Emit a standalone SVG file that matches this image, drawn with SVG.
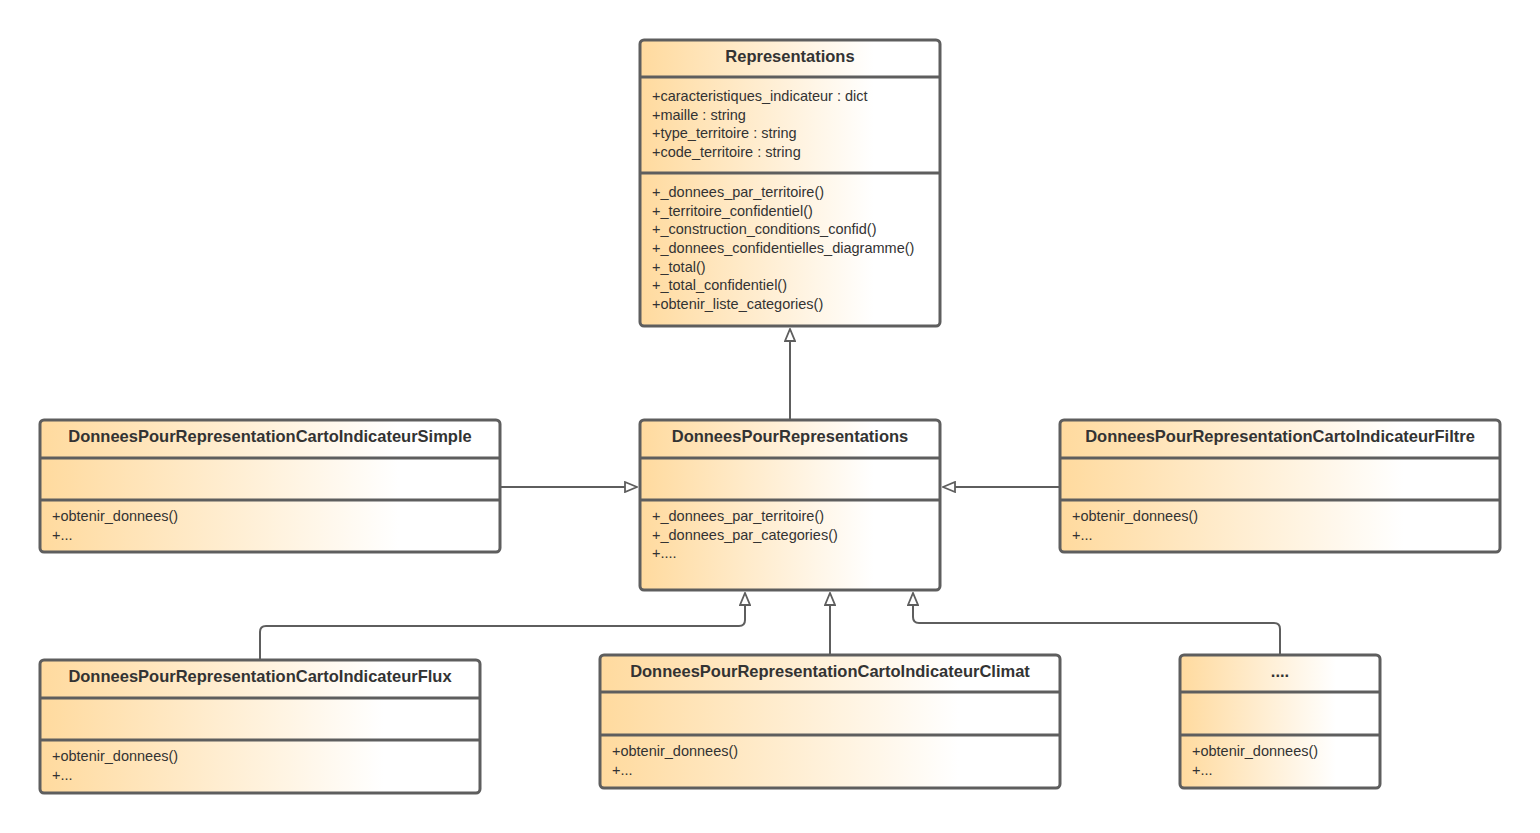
<svg xmlns="http://www.w3.org/2000/svg" width="1540" height="833" viewBox="0 0 1540 833">
<style>
.b{stroke:#5e5e5e;stroke-width:3;fill:url(#g)}
.d{stroke:#5e5e5e;stroke-width:3}
.t{font-family:"Liberation Sans",Arial,sans-serif;font-weight:bold;font-size:16.5px;fill:#333;text-anchor:middle}
.m{font-family:"Liberation Sans",Arial,sans-serif;font-size:14.5px;fill:#333}
.c{stroke:#5e5e5e;stroke-width:2;fill:none;marker-end:url(#a)}
</style>
<defs>
<linearGradient id="g" x1="0" y1="0" x2="1" y2="0">
<stop offset="0" stop-color="#FFDA9E"/><stop offset="0.78" stop-color="#FFFFFF"/>
</linearGradient>
<marker id="a" viewBox="0 0 14 12" refX="13" refY="6" markerWidth="14" markerHeight="12" markerUnits="userSpaceOnUse" orient="auto">
<path d="M1,1 L13,6 L1,11 Z" fill="#fff" stroke="#5e5e5e" stroke-width="1.8"/>
</marker>
</defs>
<g id="connectors">
<path class="c" d="M790,420 V329"/>
<path class="c" d="M500,487 H637"/>
<path class="c" d="M1060,487 H943"/>
<path class="c" d="M260,660 V632 Q260,626 266,626 H739 Q745,626 745,620 V593"/>
<path class="c" d="M830,655 V593"/>
<path class="c" d="M1280,655 V629 Q1280,623 1274,623 H919 Q913,623 913,617 V593"/>
</g>
<g id="representations">
<rect class="b" x="640" y="40" width="300" height="286" rx="4"/>
<line class="d" x1="640" y1="77" x2="940" y2="77"/><line class="d" x1="640" y1="173" x2="940" y2="173"/>
<text class="t" x="790" y="62">Representations</text>
<text class="m" x="652" y="101">+caracteristiques_indicateur :  dict</text>
<text class="m" x="652" y="120">+maille : string</text>
<text class="m" x="652" y="138">+type_territoire : string</text>
<text class="m" x="652" y="157">+code_territoire : string</text>
<text class="m" x="652" y="197">+_donnees_par_territoire()</text>
<text class="m" x="652" y="216">+_territoire_confidentiel()</text>
<text class="m" x="652" y="234">+_construction_conditions_confid()</text>
<text class="m" x="652" y="253">+_donnees_confidentielles_diagramme()</text>
<text class="m" x="652" y="272">+_total()</text>
<text class="m" x="652" y="290">+_total_confidentiel()</text>
<text class="m" x="652" y="309">+obtenir_liste_categories()</text>
</g>
<g id="dpr">
<rect class="b" x="640" y="420" width="300" height="170" rx="4"/>
<line class="d" x1="640" y1="458" x2="940" y2="458"/><line class="d" x1="640" y1="500" x2="940" y2="500"/>
<text class="t" x="790" y="442">DonneesPourRepresentations</text>
<text class="m" x="652" y="521">+_donnees_par_territoire()</text>
<text class="m" x="652" y="540">+_donnees_par_categories()</text>
<text class="m" x="652" y="558">+....</text>
</g>
<g id="simple">
<rect class="b" x="40" y="420" width="460" height="132" rx="4"/>
<line class="d" x1="40" y1="458" x2="500" y2="458"/><line class="d" x1="40" y1="500" x2="500" y2="500"/>
<text class="t" x="270" y="442">DonneesPourRepresentationCartoIndicateurSimple</text>
<text class="m" x="52" y="521">+obtenir_donnees()</text>
<text class="m" x="52" y="540">+...</text>
</g>
<g id="filtre">
<rect class="b" x="1060" y="420" width="440" height="132" rx="4"/>
<line class="d" x1="1060" y1="458" x2="1500" y2="458"/><line class="d" x1="1060" y1="500" x2="1500" y2="500"/>
<text class="t" x="1280" y="442">DonneesPourRepresentationCartoIndicateurFiltre</text>
<text class="m" x="1072" y="521">+obtenir_donnees()</text>
<text class="m" x="1072" y="540">+...</text>
</g>
<g id="flux">
<rect class="b" x="40" y="660" width="440" height="133" rx="4"/>
<line class="d" x1="40" y1="698" x2="480" y2="698"/><line class="d" x1="40" y1="740" x2="480" y2="740"/>
<text class="t" x="260" y="682">DonneesPourRepresentationCartoIndicateurFlux</text>
<text class="m" x="52" y="761">+obtenir_donnees()</text>
<text class="m" x="52" y="780">+...</text>
</g>
<g id="climat">
<rect class="b" x="600" y="655" width="460" height="133" rx="4"/>
<line class="d" x1="600" y1="692" x2="1060" y2="692"/><line class="d" x1="600" y1="735" x2="1060" y2="735"/>
<text class="t" x="830" y="677">DonneesPourRepresentationCartoIndicateurClimat</text>
<text class="m" x="612" y="756">+obtenir_donnees()</text>
<text class="m" x="612" y="775">+...</text>
</g>
<g id="etc">
<rect class="b" x="1180" y="655" width="200" height="133" rx="4"/>
<line class="d" x1="1180" y1="692" x2="1380" y2="692"/><line class="d" x1="1180" y1="735" x2="1380" y2="735"/>
<text class="t" x="1280" y="677">....</text>
<text class="m" x="1192" y="756">+obtenir_donnees()</text>
<text class="m" x="1192" y="775">+...</text>
</g>
</svg>
